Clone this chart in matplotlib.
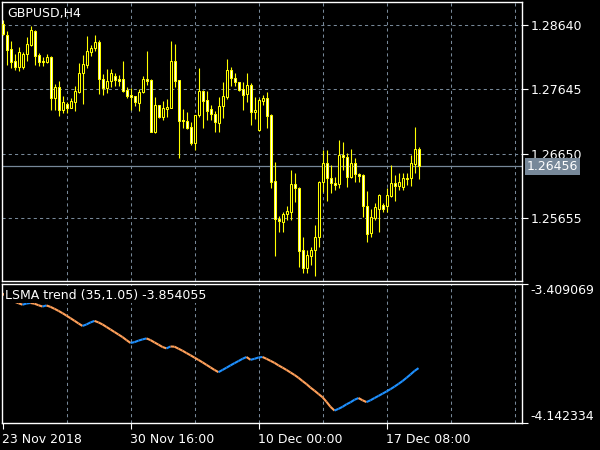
import numpy as np
import matplotlib
matplotlib.use('Agg')
import matplotlib.pyplot as plt
from matplotlib.collections import LineCollection
from matplotlib.patches import Rectangle

symbol_title = 'GBPUSD,H4'
indicator_title = 'LSMA trend (35,1.05) -3.854055'

# H4 candles, oldest first
opens = [1.28655, 1.28485, 1.28269, 1.28083, 1.27990, 1.27990, 1.28192, 1.28331, 1.28547, 1.28176,
         1.28083, 1.28068, 1.28145, 1.27511, 1.27681, 1.27325, 1.27418, 1.27356, 1.27449, 1.27604,
         1.27898, 1.28021, 1.28222, 1.28284, 1.28377, 1.27805, 1.27666, 1.27774, 1.27851, 1.27805,
         1.27805, 1.27635, 1.27557, 1.27542, 1.27434, 1.27604, 1.27805, 1.27789, 1.26985, 1.27403,
         1.27217, 1.27341, 1.27356, 1.28083, 1.27789, 1.27171, 1.27155, 1.27062, 1.26815, 1.27248,
         1.27619, 1.27480, 1.27341, 1.27264, 1.27124, 1.27387, 1.27526, 1.27944, 1.27820, 1.27758,
         1.27650, 1.27573, 1.27712, 1.27295, 1.27016, 1.27465, 1.27511, 1.27248, 1.26227, 1.25640,
         1.25593, 1.25717, 1.25748, 1.26181, 1.26119, 1.25160, 1.24882, 1.25067, 1.25160, 1.25361,
         1.26212, 1.26506, 1.26274, 1.26196, 1.26181, 1.26629, 1.26598, 1.26289, 1.26506, 1.26336,
         1.26320, 1.25841, 1.25423, 1.25655, 1.25794, 1.25856, 1.25841, 1.25995, 1.26196, 1.26150,
         1.26135, 1.26274, 1.26274, 1.26490, 1.26722]
highs = [1.28717, 1.28547, 1.28393, 1.28192, 1.28300, 1.28222, 1.28454, 1.28625, 1.28563, 1.28207,
         1.28145, 1.28192, 1.28161, 1.27728, 1.27774, 1.27542, 1.27449, 1.27511, 1.27697, 1.28052,
         1.28176, 1.28470, 1.28331, 1.28485, 1.28408, 1.27882, 1.27960, 1.27960, 1.27898, 1.27867,
         1.28083, 1.27681, 1.27666, 1.27542, 1.27650, 1.27851, 1.28238, 1.27805, 1.27526, 1.27403,
         1.27465, 1.27496, 1.28393, 1.28346, 1.27789, 1.27341, 1.27295, 1.27140, 1.27248, 1.27975,
         1.27635, 1.27619, 1.27403, 1.27310, 1.27526, 1.27758, 1.28114, 1.27990, 1.27898, 1.27758,
         1.27758, 1.27898, 1.27743, 1.27526, 1.27511, 1.27557, 1.27604, 1.27264, 1.26521, 1.25686,
         1.25748, 1.25841, 1.26397, 1.26351, 1.26135, 1.25361, 1.25160, 1.25207, 1.25547, 1.26227,
         1.26707, 1.26707, 1.26475, 1.26289, 1.26861, 1.26830, 1.26660, 1.26722, 1.26583, 1.26351,
         1.26336, 1.26073, 1.25794, 1.25887, 1.26026, 1.25887, 1.26119, 1.26475, 1.26320, 1.26351,
         1.26351, 1.26351, 1.26629, 1.27062, 1.26753]
lows = [1.28485, 1.28021, 1.27975, 1.27944, 1.27929, 1.27960, 1.28083, 1.28315, 1.28021, 1.28006,
        1.28006, 1.28052, 1.27325, 1.27325, 1.27233, 1.27279, 1.27279, 1.27356, 1.27310, 1.27588,
        1.27418, 1.27975, 1.28161, 1.28238, 1.27573, 1.27557, 1.27588, 1.27681, 1.27697, 1.27697,
        1.27604, 1.27511, 1.27325, 1.27387, 1.27310, 1.27588, 1.27712, 1.26985, 1.26970, 1.27202,
        1.27171, 1.27217, 1.27356, 1.27681, 1.26583, 1.27047, 1.27032, 1.26784, 1.26707, 1.27217,
        1.27047, 1.27171, 1.27171, 1.26985, 1.26985, 1.27202, 1.27496, 1.27697, 1.27697, 1.27619,
        1.27325, 1.27449, 1.27093, 1.27186, 1.27001, 1.27403, 1.27047, 1.26119, 1.25067, 1.25439,
        1.25439, 1.25624, 1.25624, 1.25903, 1.24897, 1.24804, 1.24804, 1.24928, 1.24758, 1.25207,
        1.26057, 1.25918, 1.26042, 1.26088, 1.26119, 1.26397, 1.26135, 1.26274, 1.26212, 1.26212,
        1.25671, 1.25284, 1.25361, 1.25624, 1.25439, 1.25748, 1.25748, 1.25980, 1.25918, 1.26088,
        1.26088, 1.26165, 1.26150, 1.26351, 1.26258]
closes = [1.28501, 1.28253, 1.28068, 1.27990, 1.28222, 1.28192, 1.28346, 1.28563, 1.28161, 1.28068,
          1.28068, 1.28145, 1.27511, 1.27681, 1.27325, 1.27449, 1.27356, 1.27465, 1.27619, 1.27898,
          1.28037, 1.28238, 1.28284, 1.28377, 1.27805, 1.27666, 1.27774, 1.27898, 1.27789, 1.27774,
          1.27619, 1.27542, 1.27526, 1.27449, 1.27604, 1.27805, 1.27774, 1.26985, 1.27403, 1.27217,
          1.27356, 1.27372, 1.28083, 1.27774, 1.27155, 1.27155, 1.27047, 1.26815, 1.27248, 1.27619,
          1.27465, 1.27310, 1.27264, 1.27140, 1.27387, 1.27542, 1.27944, 1.27820, 1.27758, 1.27635,
          1.27557, 1.27712, 1.27295, 1.27325, 1.27480, 1.27511, 1.27233, 1.26212, 1.25640, 1.25609,
          1.25717, 1.25763, 1.26181, 1.26119, 1.25145, 1.24882, 1.25083, 1.25160, 1.25361, 1.26212,
          1.26506, 1.26274, 1.26196, 1.26165, 1.26629, 1.26598, 1.26289, 1.26506, 1.26336, 1.26305,
          1.25841, 1.25408, 1.25671, 1.25825, 1.26011, 1.25794, 1.26011, 1.26196, 1.26150, 1.26212,
          1.26274, 1.26258, 1.26506, 1.26722, 1.26456]

lsma = [-3.4622, -3.4781, -3.4941, -3.5047, -3.5127, -3.5206, -3.5143, -3.5116, -3.5153, -3.5233,
        -3.5302, -3.5244, -3.5320, -3.5420, -3.5530, -3.5650, -3.5780, -3.5915, -3.6050, -3.6190,
        -3.6322, -3.6243, -3.6136, -3.6057, -3.6136, -3.6243, -3.6375, -3.6508, -3.6641, -3.6774,
        -3.6907, -3.7066, -3.7215, -3.7173, -3.7093, -3.7029, -3.6976, -3.7066, -3.7188, -3.7305,
        -3.7428, -3.7502, -3.7401, -3.7412, -3.7518, -3.7624, -3.7746, -3.7863, -3.7986, -3.8108,
        -3.8235, -3.8368, -3.8501, -3.8634, -3.8751, -3.8634, -3.8517, -3.8395, -3.8278, -3.8166,
        -3.8049, -3.7954, -3.8102, -3.8049, -3.7980, -3.7954, -3.8049, -3.8156, -3.8262, -3.8395,
        -3.8511, -3.8634, -3.8767, -3.8899, -3.9048, -3.9218, -3.9378, -3.9564, -3.9723, -3.9898,
        -4.0068, -4.0308, -4.0573, -4.0770, -4.0679, -4.0573, -4.0440, -4.0334, -4.0201, -4.0111,
        -4.0228, -4.0323, -4.0228, -4.0111, -3.9999, -3.9882, -3.9766, -3.9643, -3.9510, -3.9367,
        -3.9218, -3.9048, -3.8873, -3.8687, -3.854055]

price_ticks = [1.28640, 1.27645, 1.26650, 1.25655]
indicator_ticks = [-4.142334, -3.409069]
date_ticks = [0, 32, 64, 96]
date_labels = ['23 Nov 2018', '30 Nov 16:00', '10 Dec 00:00', '17 Dec 08:00']
bid = closes[-1]

YELLOW = '#FFFF00'
GRID = '#778899'
UP = '#1E90FF'
DOWN = '#FFA05A'

W, H = 600, 450
fig = plt.figure(figsize=(6, 4.5), dpi=100, facecolor='black')


def box(left, top, right, bottom):
    return [left / W, 1 - bottom / H, (right - left) / W, (bottom - top) / H]


ax = fig.add_axes(box(2, 2, 522, 281))
ax2 = fig.add_axes(box(2, 283.5, 522, 423))

for a in (ax, ax2):
    a.set_facecolor('black')
    for s in a.spines.values():
        s.set_color('white')
        s.set_linewidth(1.0)
    a.set_xlim(-0.125, 129.875)
    for g in range(16, 130, 16):
        a.axvline(g, color=GRID, lw=0.75, ls=(0, (3, 3)), zorder=0)

# price panel
x = np.arange(len(opens))
for p in price_ticks:
    ax.axhline(p, color=GRID, lw=0.75, ls=(0, (3, 3)), zorder=0)
ax.vlines(x, lows, highs, color=YELLOW, lw=0.8, zorder=2)
for i in range(len(opens)):
    o, c = opens[i], closes[i]
    face = 'black' if c > o else 'white'
    ax.add_patch(Rectangle((x[i] - 0.25, min(o, c)), 0.5, abs(c - o),
                           facecolor=face, edgecolor=YELLOW, lw=0.75, zorder=3))
ax.axhline(bid, color=GRID, lw=0.9, zorder=1)
ax.set_ylim(1.246807, 1.289957)
ax.yaxis.tick_right()
ax.set_yticks(price_ticks, [f'{p:.5f}' for p in price_ticks])
ax.tick_params(axis='y', colors='white', direction='out', length=4, width=0.8,
               pad=2, labelsize=9)
ax.tick_params(axis='x', bottom=False, labelbottom=False)
ax.text(1.0095, bid, f'{bid:.5f}', transform=ax.get_yaxis_transform(),
        ha='left', va='center', color='white', fontsize=9, zorder=5, clip_on=False,
        bbox=dict(boxstyle='square,pad=0.15', fc=GRID, ec='none'))

# indicator panel
pts = np.column_stack([x, lsma])
segs = [[pts[i - 1], pts[i]] for i in range(1, len(pts))]
cols = [UP if lsma[i] > lsma[i - 1] else DOWN for i in range(1, len(lsma))]
ax2.add_collection(LineCollection(segs, colors=cols, linewidths=1.5, zorder=2))
ax2.set_ylim(indicator_ticks[0], indicator_ticks[1])
ax2.yaxis.tick_right()
ax2.set_yticks(indicator_ticks, [f'{v:.6f}' for v in indicator_ticks])
ax2.tick_params(axis='y', colors='white', direction='out', length=4, width=0.8,
                pad=2, labelsize=9)
ylabels = ax2.get_yticklabels()
ylabels[0].set_va('bottom')
ylabels[1].set_va('top')
ax2.set_xticks(date_ticks, date_labels)
ax2.tick_params(axis='x', colors='white', direction='out', length=4, width=0.8,
                pad=3, labelsize=9)
for lab in ax2.get_xticklabels():
    lab.set_ha('left')

fig.text(7 / W, 1 - 13 / H, symbol_title, color='white', fontsize=9, va='center')
# the indicator label sits on a black box that hides the line beneath it
fig.text(5 / W, 1 - 295 / H, indicator_title, color='white', fontsize=9,
         va='center', zorder=5,
         bbox=dict(boxstyle='square,pad=0.1', fc='black', ec='none'))

fig.savefig('out.png', dpi=100, facecolor='black')
